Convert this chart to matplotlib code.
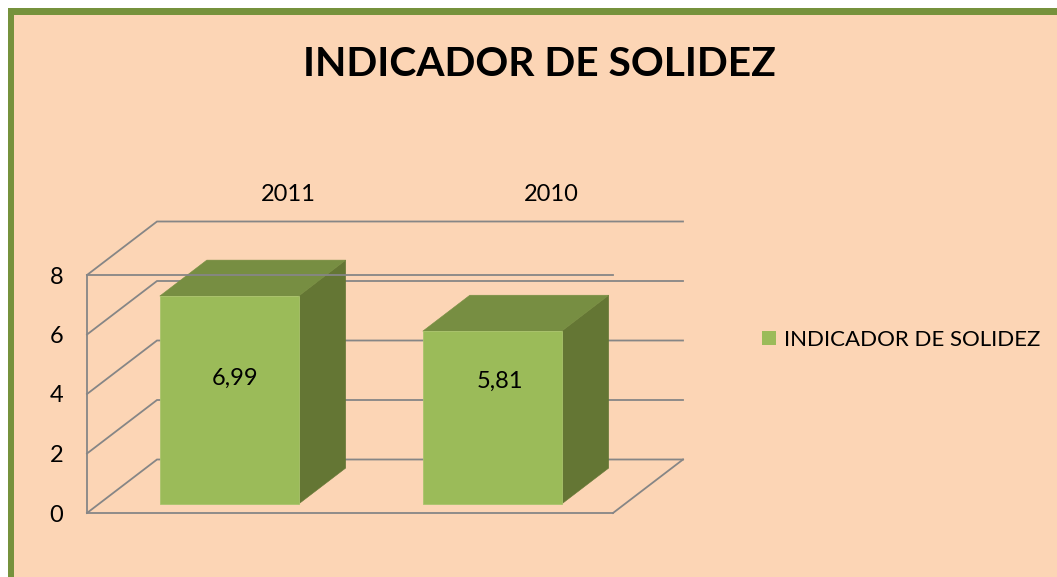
import matplotlib
matplotlib.use('Agg')
import matplotlib.pyplot as plt
from matplotlib.patches import Polygon, Rectangle

years = ['2011', '2010']
solidez = [6.99, 5.81]
solidez_labels = ['6,99', '5,81']
y_ticks = [0, 2, 4, 6, 8]
series_name = 'INDICADOR DE SOLIDEZ'

W, H = 1057.0, 577.0
plt.rcParams['font.family'] = ['Lato', 'DejaVu Sans']

PEACH = '#FCD5B5'
GRID = '#868686'

# oblique 3d look: depth 1 moves this far in category / value units
DX = 70 / 263.0
DY = 53.5 / 29.75
BAR_W = 0.53
D_FRONT, D_BACK = 0.168, 0.84


def proj(x, v, d):
    return x + d * DX, v + d * DY


fig = plt.figure(figsize=(10.57, 5.77), dpi=100, facecolor='white')
fig.patches.append(Rectangle((7.5 / W, 0), (W - 7.5) / W, (H - 8) / H, transform=fig.transFigure,
                             facecolor=PEACH, edgecolor='none', zorder=-3))
fig.patches.append(Rectangle((7.5 / W, 0), 6 / W, (H - 8) / H, transform=fig.transFigure,
                             facecolor='#76923C', edgecolor='none', zorder=-2))
fig.patches.append(Rectangle((7.5 / W, (H - 14.5) / H), (W - 7.5) / W, 6.5 / H, transform=fig.transFigure,
                             facecolor='#76923C', edgecolor='none', zorder=-2))

ax = fig.add_axes([87 / W, (H - 513) / H, 526 / W, 238 / H])
ax.patch.set_visible(False)
ax.set_xlim(0, 2)
ax.set_ylim(0, 8)

ax.spines['right'].set_visible(False)
for s in ['left', 'bottom', 'top']:
    ax.spines[s].set_color(GRID)
    ax.spines[s].set_linewidth(1.3)
ax.spines['top'].set_zorder(6)
ax.spines['left'].set_zorder(1)
ax.spines['bottom'].set_zorder(1)

ax.set_xticks([])
ax.set_yticks(y_ticks)
ax.tick_params(axis='y', length=0, pad=17, labelsize=17, labelcolor='black')

# walls and floor
for v in y_ticks:
    x0, y0 = proj(0, v, 0)
    x1, y1 = proj(0, v, 1)
    x2, y2 = proj(2, v, 1)
    ax.plot([x0, x1, x2], [y0, y1, y2], color=GRID, lw=1.3, clip_on=False, zorder=1,
            solid_joinstyle='miter')
x0, y0 = proj(2, 0, 0)
x1, y1 = proj(2, 0, 1)
ax.plot([x0, x1], [y0, y1], color=GRID, lw=1.3, clip_on=False, zorder=1)

# bars
for i, val in enumerate(solidez):
    left = i + 0.5 - BAR_W / 2 - 0.003
    right = i + 0.5 + BAR_W / 2 - 0.005
    a = proj(left, 0, D_FRONT)
    b = proj(right, 0, D_FRONT)
    c = proj(right, val, D_FRONT)
    d = proj(left, val, D_FRONT)
    e = proj(right, 0, D_BACK)
    f = proj(right, val, D_BACK)
    g = proj(left, val, D_BACK)
    ax.add_patch(Polygon([b, e, f, c], facecolor='#647634', edgecolor='#647634', lw=0.4, clip_on=False, zorder=3))
    ax.add_patch(Polygon([d, c, f, g], facecolor='#778E42', edgecolor='#778E42', lw=0.4, clip_on=False, zorder=3))
    ax.add_patch(Polygon([a, b, c, d], facecolor='#9BBB59', edgecolor='#A9C46C', lw=0.6, clip_on=False, zorder=4))

# value labels, placed by hand like the excel ones
label_x = [0.5627, 1.570]
label_y = [4.51, 4.41]
for i, txt in enumerate(solidez_labels):
    ax.text(label_x[i], label_y[i], txt, ha='center', va='center', fontsize=17, color='black', zorder=7)

# category labels on the back wall
for i, yr in enumerate(years):
    x, y = proj(i + 0.5, 8, 1)
    ax.annotate(yr, (x, y), xytext=(0, 19.5), textcoords='offset points', ha='center', va='center',
                fontsize=17, color='black', annotation_clip=False)

fig.text(539 / W, (H - 64) / H, series_name, ha='center', va='center', fontsize=29.3, fontweight='bold', color='black')

# legend
fig.patches.append(Rectangle((762 / W, (H - 345) / H), 14 / W, 14 / H, transform=fig.transFigure,
                             facecolor='#9BBB59', edgecolor='none'))
fig.text(784 / W, (H - 339.5) / H, series_name, ha='left', va='center', fontsize=16, color='black')

fig.savefig('out.png', dpi=100)
